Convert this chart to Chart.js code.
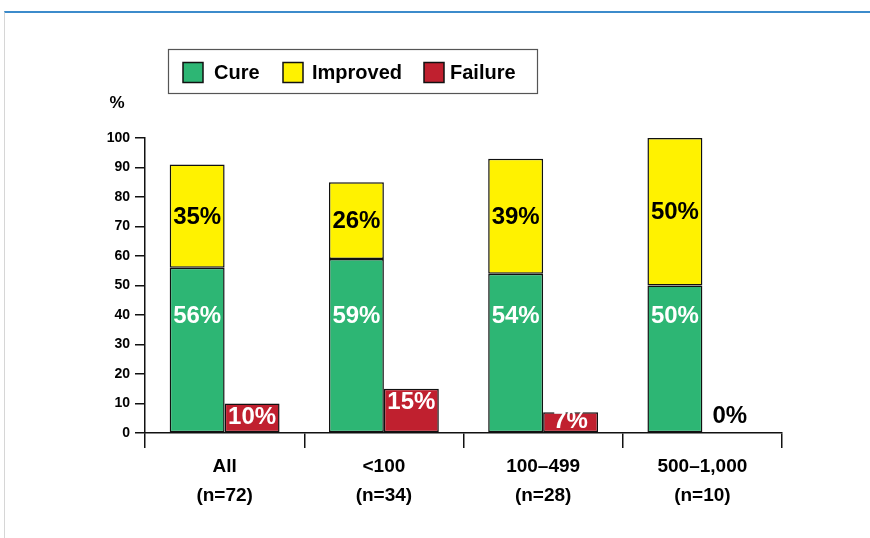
<!DOCTYPE html>
<html>
<head>
<meta charset="utf-8">
<script src="https://cdn.jsdelivr.net/npm/chart.js@4/dist/chart.umd.min.js"></script>
<style>
    body { margin: 0; background: #fff; }
    #khung { position: relative; width: 870px; height: 538px; overflow: hidden; }
    #vien { position: absolute; left: 4px; top: 11px; right: -2px; bottom: -2px;
            border-top: 2px solid #3c8bcb; border-left: 1px solid #d6d6d6; pointer-events: none; }
    canvas { position: absolute; left: 0; top: 0; }
</style>
</head>
<body>
<div id="khung">
    <canvas id="bieu-do" width="870" height="538"></canvas>
    <div id="vien"></div>
</div>
<script>
// du lieu
const nhomBenh = [["All", "(n=72)"], ["<100", "(n=34)"], ["100\u2013499", "(n=28)"], ["500\u20131,000", "(n=10)"]];
const tiLeKhoi = [56, 59, 54, 50];
const tiLeCaiThien = [35, 26, 39, 50];
const tiLeThatBai = [10, 15, 7, 0];
const nhanTrucY = [0, 10, 20, 30, 40, 50, 60, 70, 80, 90, 100];

const mauKhoi = "#2db674";
const mauCaiThien = "#fff200";
const mauThatBai = "#c0202f";
const phongChu = "'Liberation Sans', Arial, sans-serif";

//chu so phan tram tren cot
const nhanCot = {
    id: "nhanCot",
    afterDatasetsDraw(chart) {
        const ctx = chart.ctx;
        const y = chart.scales.y;
        ctx.save();
        ctx.font = "bold 24px " + phongChu;
        ctx.textAlign = "center";
        ctx.textBaseline = "middle";
        chart.data.datasets.forEach((ds, i) => {
            const meta = chart.getDatasetMeta(i);
            meta.data.forEach((bar, j) => {
                const v = ds.data[j];
                let py;
                let mau = "#fff";
                if (i === 0) {
                    py = y.getPixelForValue(40);
                } else if (i === 1) {
                    py = (bar.y + bar.base) / 2;
                    mau = "#000";
                } else {
                    if (v === 0) {
                        py = bar.base - 18;
                        mau = "#000";
                    } else {
                        py = Math.min(bar.y + 13, bar.base - 12);
                    }
                }
                ctx.fillStyle = mau;
                ctx.fillText(v + "%", bar.x, py + 1);
            });
        });
        ctx.restore();
    }
};

//chu thich va dau %
const chuThich = {
    id: "chuThich",
    afterDraw(chart) {
        const ctx = chart.ctx;
        ctx.save();
        ctx.strokeStyle = "#555";
        ctx.lineWidth = 1.2;
        ctx.strokeRect(168.5, 49.5, 369, 44);

        const viTri = [[183, 214], [283, 312], [424, 450]];
        ctx.font = "bold 20px " + phongChu;
        ctx.textBaseline = "middle";
        ctx.textAlign = "left";
        chart.data.datasets.forEach((ds, i) => {
            ctx.fillStyle = ds.backgroundColor;
            ctx.fillRect(viTri[i][0], 62.5, 20, 20);
            ctx.strokeStyle = "#111";
            ctx.lineWidth = 1.5;
            ctx.strokeRect(viTri[i][0], 62.5, 20, 20);
            ctx.fillStyle = "#000";
            ctx.fillText(ds.label, viTri[i][1], 73);
        });

        ctx.font = "bold 17px " + phongChu;
        ctx.textAlign = "center";
        ctx.fillText("%", 117, 103);
        ctx.restore();
    }
};

new Chart(document.getElementById("bieu-do"), {
    type: "bar",
    data: {
        labels: nhomBenh,
        datasets: [
            { label: "Cure", data: tiLeKhoi, backgroundColor: mauKhoi, stack: "a" },
            { label: "Improved", data: tiLeCaiThien, backgroundColor: mauCaiThien, stack: "a" },
            { label: "Failure", data: tiLeThatBai, backgroundColor: mauThatBai, stack: "b" }
        ]
    },
    options: {
        responsive: false,
        animation: false,
        layout: { padding: { left: 85, right: 88, top: 138, bottom: 25 } },
        datasets: {
            bar: {
                borderColor: "#111",
                borderWidth: 1.5,
                borderSkipped: false,
                categoryPercentage: 0.69,
                barPercentage: 1.0
            }
        },
        plugins: {
            legend: { display: false },
            tooltip: { enabled: false }
        },
        scales: {
            x: {
                stacked: true,
                afterFit(scale) { scale.height = 80; },
                grid: {
                    offset: true,
                    drawOnChartArea: false,
                    tickLength: 15,
                    lineWidth: 1.5,
                    color: c => (c.index === nhomBenh.length ? "rgba(0,0,0,0)" : "#111")
                },
                border: { color: "#111", width: 1.5 },
                ticks: {
                    color: "#000",
                    padding: 5,
                    font: { family: phongChu, size: 19, weight: "bold", lineHeight: 1.5 }
                }
            },
            y: {
                stacked: true,
                min: 0,
                max: 100,
                afterFit(scale) { scale.width = 60; },
                afterBuildTicks(scale) { scale.ticks = nhanTrucY.map(v => ({ value: v })); },
                grid: { drawOnChartArea: false, tickLength: 10, lineWidth: 1.5, color: "#111" },
                border: { color: "#111", width: 1.5 },
                ticks: {
                    color: "#000",
                    padding: 5,
                    font: { family: phongChu, size: 14, weight: "bold" }
                }
            }
        }
    },
    plugins: [nhanCot, chuThich]
});
</script>
</body>
</html>
